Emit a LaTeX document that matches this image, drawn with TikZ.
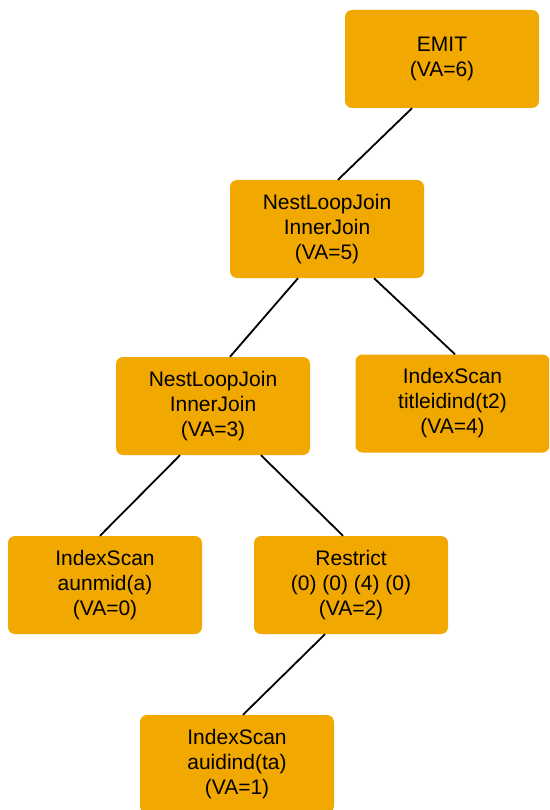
\documentclass[tikz,border=0pt]{standalone}
\usepackage{fontspec}
\setmainfont{Liberation Sans}
\definecolor{boxorange}{RGB}{241,168,0}
\begin{document}
\begin{tikzpicture}[x=1pt,y=-1pt,
  opbox/.style={fill=boxorange, draw=none, rounded corners=7pt, minimum width=194pt,
    minimum height=98pt, align=center, inner sep=0pt,
    font=\fontsize{21pt}{25pt}\selectfont, text=black},
  edge/.style={draw=black, line width=1.8pt}]
\useasboundingbox (0,0) rectangle (549,810);
\clip (0,0) rectangle (549,810);
\node[opbox] (emit) at (442,59) {EMIT\\(VA=6)};
\node[opbox] (nlj5) at (327,229) {NestLoopJoin\\InnerJoin\\(VA=5)};
\node[opbox] (nlj3) at (213,406) {NestLoopJoin\\InnerJoin\\(VA=3)};
\node[opbox] (is4) at (452.5,403.5) {IndexScan\\titleidind(t2)\\(VA=4)};
\node[opbox] (is0) at (105,585) {IndexScan\\aunmid(a)\\(VA=0)};
\node[opbox] (res) at (351,585) {Restrict\\(0) (0) (4) (0)\\(VA=2)};
\node[opbox] (is1) at (237,764) {IndexScan\\auidind(ta)\\(VA=1)};
\draw[edge] ([xshift=-30pt]emit.south) -- ([xshift=11pt]nlj5.north);
\draw[edge] ([xshift=-29pt]nlj5.south) -- ([xshift=17pt]nlj3.north);
\draw[edge] ([xshift=47pt]nlj5.south) -- ([xshift=2.5pt]is4.north);
\draw[edge] ([xshift=-33pt]nlj3.south) -- ([xshift=-5pt]is0.north);
\draw[edge] ([xshift=48pt]nlj3.south) -- ([xshift=-8pt]res.north);
\draw[edge] ([xshift=-26pt]res.south) -- ([xshift=6pt]is1.north);
\end{tikzpicture}
\end{document}
